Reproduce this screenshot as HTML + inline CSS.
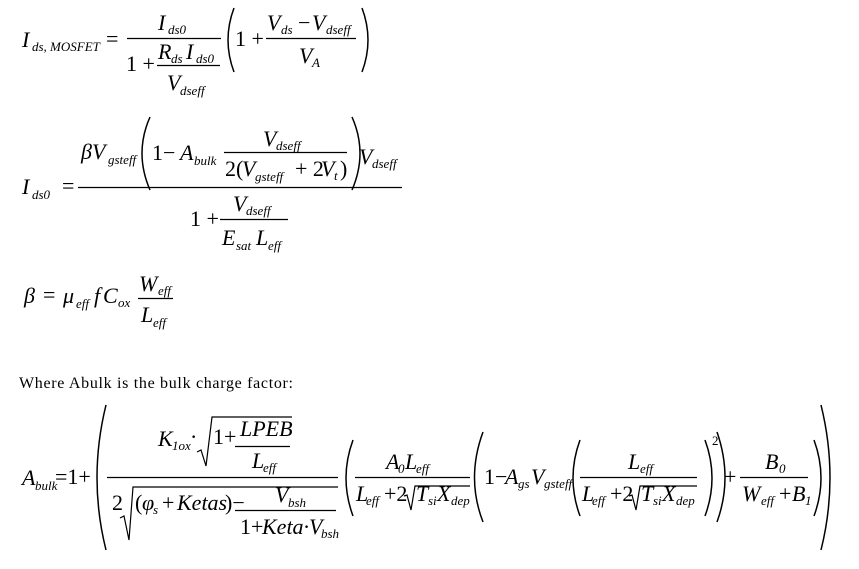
<!DOCTYPE html>
<html><head><meta charset="utf-8"><style>
html,body{margin:0;padding:0;background:#fff;}
svg{display:block}
text{font-family:"Liberation Serif",serif;fill:#000}
.i{font-style:italic;font-size:22px}
.r{font-size:22px}
.s{font-style:italic;font-size:13px}
.sr{font-size:13px}
path,line{stroke:#000;fill:none}
</style></head><body>
<svg width="859" height="569" viewBox="0 0 859 569" xmlns="http://www.w3.org/2000/svg">
<!-- Eq 1 -->
<text class="i" x="22" y="47">I</text><text class="s" x="32" y="51">ds, MOSFET</text>
<text class="r" x="106" y="46">=</text>
<line x1="127" y1="38.5" x2="221" y2="38.5" stroke-width="1.2"/>
<text class="i" x="158" y="30">I</text><text class="s" x="168" y="34">ds0</text>
<text class="r" x="126" y="71">1 +</text>
<line x1="157" y1="65.5" x2="220" y2="65.5" stroke-width="1.2"/>
<text class="i" x="158" y="59">R</text><text class="s" x="171" y="63">ds</text><text class="i" x="186" y="59">I</text><text class="s" x="196" y="63">ds0</text>
<text class="i" x="167" y="90">V</text><text class="s" x="180" y="95">dseff</text>
<path d="M234 8 Q222 40 234 72" stroke-width="1.5"/>
<text class="r" x="235" y="46">1 +</text>
<line x1="266" y1="38.5" x2="356" y2="38.5" stroke-width="1.2"/>
<text class="i" x="267" y="30">V</text><text class="s" x="281" y="34">ds</text><text class="r" x="298" y="30">−</text><text class="i" x="312" y="30">V</text><text class="s" x="326" y="34">dseff</text>
<text class="i" x="299" y="63">V</text><text class="s" x="312" y="67">A</text>
<path d="M362 8 Q374 40 362 72" stroke-width="1.5"/>
<!-- Eq 2 -->
<text class="i" x="22" y="194">I</text><text class="s" x="32" y="199">ds0</text>
<text class="r" x="62" y="193">=</text>
<line x1="78" y1="187.5" x2="402" y2="187.5" stroke-width="1.2"/>
<text class="i" x="81" y="159">βV</text><text class="s" x="108" y="164">gsteff</text>
<path d="M150 117 Q134 153 150 190" stroke-width="1.5"/>
<text class="r" x="152" y="160">1−</text><text class="i" x="180" y="160">A</text><text class="s" x="194" y="165">bulk</text>
<line x1="224" y1="152.5" x2="347" y2="152.5" stroke-width="1.2"/>
<text class="i" x="263" y="146">V</text><text class="s" x="276" y="150">dseff</text>
<text class="r" x="225" y="176">2(</text><text class="i" x="242" y="176">V</text><text class="s" x="255" y="181">gsteff</text><text class="r" x="295" y="176">+ 2</text><text class="i" x="321" y="176">V</text><text class="s" x="334" y="180">t</text><text class="r" x="340" y="176">)</text>
<path d="M352 117 Q368 153 352 190" stroke-width="1.5"/>
<text class="i" x="359" y="164">V</text><text class="s" x="372" y="168">dseff</text>
<text class="r" x="190" y="226">1 +</text>
<line x1="220" y1="219.5" x2="288" y2="219.5" stroke-width="1.2"/>
<text class="i" x="233" y="211">V</text><text class="s" x="246" y="215">dseff</text>
<text class="i" x="222" y="245">E</text><text class="s" x="236" y="250">sat</text><text class="i" x="256" y="245">L</text><text class="s" x="268" y="250">eff</text>
<!-- Eq 3 -->
<text class="i" x="24" y="303">β</text><text class="r" x="43" y="302">=</text>
<text class="i" x="63" y="303">μ</text><text class="s" x="76" y="308">eff</text><text class="i" x="94" y="303">f</text><text class="i" x="103" y="303">C</text><text class="s" x="118" y="307">ox</text>
<line x1="138" y1="298.5" x2="173" y2="298.5" stroke-width="1.2"/>
<text class="i" x="139" y="291">W</text><text class="s" x="158" y="295">eff</text>
<text class="i" x="141" y="322">L</text><text class="s" x="153" y="327">eff</text>
<!-- text -->
<text x="19" y="388" style="font-size:16px" textLength="274">Where Abulk is the bulk charge factor:</text>
<!-- Eq 4 -->
<text class="i" x="22" y="485">A</text><text class="s" x="35" y="490">bulk</text>
<text class="r" x="55" y="484">=1+</text>
<path d="M106 405 Q88 478 106 550" stroke-width="1.5"/>
<text class="i" x="158" y="446">K</text><text class="s" x="172" y="450">1ox</text><text class="r" x="190" y="444">·</text>
<path d="M197 452 L201 450 L206 466 L212 417 L292 417" stroke-width="1.2"/>
<text class="r" x="213" y="444">1+</text>
<line x1="235" y1="446.5" x2="290" y2="446.5" stroke-width="1.2"/>
<text class="i" x="240" y="436">LPEB</text>
<text class="i" x="252" y="468">L</text><text class="s" x="263" y="472">eff</text>
<line x1="107" y1="477.5" x2="338" y2="477.5" stroke-width="1.2"/>
<text class="r" x="112" y="510">2</text>
<path d="M120 518 L124 516 L129 540 L133 487 L338 487" stroke-width="1.2"/>
<text class="r" x="135" y="510">(</text><text class="i" x="142" y="510">φ</text><text class="s" x="153" y="514">s</text><text class="r" x="162" y="510">+</text><text class="i" x="177" y="510">Ketas</text><text class="r" x="225" y="510">)−</text>
<line x1="235" y1="510.5" x2="336" y2="510.5" stroke-width="1.2"/>
<text class="i" x="275" y="502">V</text><text class="s" x="288" y="507">bsh</text>
<text class="r" x="240" y="534">1+</text><text class="i" x="262" y="534">Keta·V</text><text class="s" x="321" y="538">bsh</text>
<path d="M353 440 Q339 478 353 516" stroke-width="1.5"/>
<line x1="355" y1="477.5" x2="470" y2="477.5" stroke-width="1.2"/>
<text class="i" x="386" y="469">A</text><text class="s" x="398" y="473">0</text><text class="i" x="405" y="469">L</text><text class="s" x="416" y="473">eff</text>
<text class="i" x="356" y="501">L</text><text class="s" x="366" y="505">eff</text><text class="r" x="384" y="501">+2</text>
<path d="M404 496 L407 495 L411 510 L415 486 L470 486" stroke-width="1.2"/>
<text class="i" x="416" y="501">T</text><text class="s" x="428" y="505">si</text><text class="i" x="437" y="501">X</text><text class="s" x="451" y="505">dep</text>
<path d="M483 432 Q466 478 483 522" stroke-width="1.5"/>
<text class="r" x="484" y="484">1−</text><text class="i" x="505" y="484">A</text><text class="s" x="518" y="488">gs</text><text class="i" x="531" y="484">V</text><text class="s" x="544" y="488">gsteff</text>
<path d="M580 440 Q566 478 580 516" stroke-width="1.5"/>
<line x1="580" y1="477.5" x2="697" y2="477.5" stroke-width="1.2"/>
<text class="i" x="628" y="469">L</text><text class="s" x="640" y="473">eff</text>
<text class="i" x="582" y="501">L</text><text class="s" x="592" y="505">eff</text><text class="r" x="610" y="501">+2</text>
<path d="M629 496 L632 495 L636 510 L640 486 L697 486" stroke-width="1.2"/>
<text class="i" x="641" y="501">T</text><text class="s" x="653" y="505">si</text><text class="i" x="662" y="501">X</text><text class="s" x="676" y="505">dep</text>
<path d="M705 440 Q719 478 705 516" stroke-width="1.5"/>
<text class="sr" x="712" y="445">2</text>
<path d="M717 432 Q733 478 717 522" stroke-width="1.5"/>
<text class="r" x="724" y="484">+</text>
<line x1="740" y1="477.5" x2="808" y2="477.5" stroke-width="1.2"/>
<text class="i" x="765" y="469">B</text><text class="s" x="779" y="473">0</text>
<text class="i" x="742" y="501">W</text><text class="s" x="761" y="505">eff</text><text class="r" x="779" y="501">+</text><text class="i" x="792" y="501">B</text><text class="s" x="805" y="505">1</text>
<path d="M814 440 Q828 478 814 516" stroke-width="1.5"/>
<path d="M821 405 Q839 478 821 550" stroke-width="1.5"/>
</svg>
</body></html>
